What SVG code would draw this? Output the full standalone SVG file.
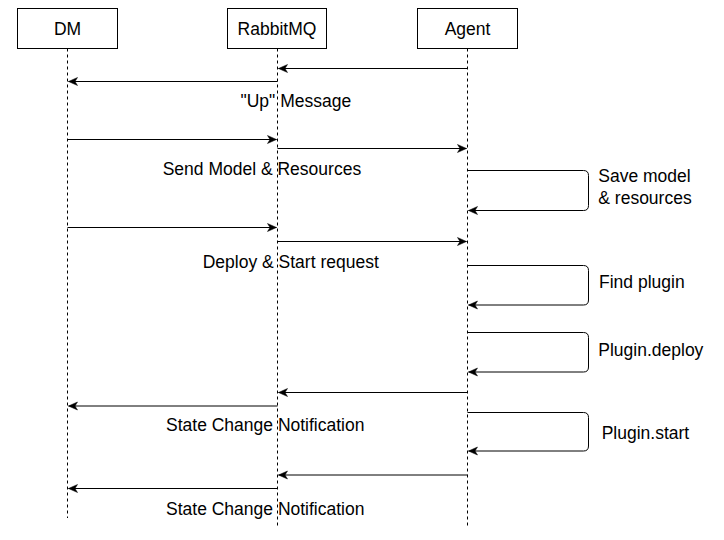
<svg xmlns="http://www.w3.org/2000/svg" width="724" height="540" viewBox="0 0 724 540">
<style>
.box{fill:#fff;stroke:#000;stroke-width:1}
.life{stroke:#000;stroke-width:1;stroke-dasharray:3 3;fill:none}
.msg{stroke:#000;stroke-width:1;fill:none;marker-end:url(#arr)}
.t{font-family:"Liberation Sans",Arial,Helvetica,sans-serif;font-size:17.5px;fill:#000}
.c{text-anchor:middle}
</style>
<defs>
<marker id="arr" markerUnits="userSpaceOnUse" markerWidth="12" markerHeight="10" viewBox="-10 -5 12 10" refX="0" refY="0" orient="auto">
<path d="M0,0 L-9,-4 L-6.5,0 L-9,4 Z" fill="#000" stroke="#000" stroke-width="0.5"/>
</marker>
</defs>
<rect width="724" height="540" fill="#fff"/>
<g id="dm">
<rect class="box" x="17.5" y="8.5" width="100" height="40"/>
<text class="t c" x="67.5" y="35">DM</text>
<line class="life" x1="67.5" y1="48.5" x2="67.5" y2="518"/>
</g>
<g id="rabbitmq">
<rect class="box" x="227.5" y="8.5" width="99" height="40"/>
<text class="t c" x="277" y="35">RabbitMQ</text>
<line class="life" x1="277.5" y1="48.5" x2="277.5" y2="527"/>
</g>
<g id="agent">
<rect class="box" x="417.5" y="8.5" width="100" height="40"/>
<text class="t c" x="467.5" y="35">Agent</text>
<line class="life" x1="467.5" y1="48.5" x2="467.5" y2="527"/>
</g>
<g id="connectors">
<line class="msg" x1="467.5" y1="68.5" x2="278.5" y2="68.5"/>
<line class="msg" x1="277.5" y1="81.5" x2="68.5" y2="81.5"/>
<line class="msg" x1="67.5" y1="139.5" x2="276.5" y2="139.5"/>
<line class="msg" x1="277.5" y1="148.5" x2="466.5" y2="148.5"/>
<path class="msg" d="M467.5,170.5 H583.5 Q588.5,170.5 588.5,175.5 V205.5 Q588.5,210.5 583.5,210.5 H468.5"/>
<line class="msg" x1="67.5" y1="227.5" x2="276.5" y2="227.5"/>
<line class="msg" x1="277.5" y1="241.5" x2="466.5" y2="241.5"/>
<path class="msg" d="M467.5,265.5 H583.5 Q588.5,265.5 588.5,270.5 V300 Q588.5,305 583.5,305 H468.5"/>
<path class="msg" d="M467.5,332.5 H583.5 Q588.5,332.5 588.5,337.5 V367 Q588.5,372 583.5,372 H468.5"/>
<line class="msg" x1="467.5" y1="392.5" x2="278.5" y2="392.5"/>
<line class="msg" x1="277.5" y1="406" x2="68.5" y2="406"/>
<path class="msg" d="M467.5,412.5 H583.5 Q588.5,412.5 588.5,417.5 V446 Q588.5,451 583.5,451 H468.5"/>
<line class="msg" x1="467.5" y1="475" x2="278.5" y2="475"/>
<line class="msg" x1="277.5" y1="488.5" x2="68.5" y2="488.5"/>
</g>
<g id="labels">
<text class="t" x="240.5" y="106.5">"Up" Message</text>
<text class="t" x="162.7" y="175">Send Model &amp; Resources</text>
<text class="t" x="202.7" y="267.5">Deploy &amp; Start request</text>
<text class="t" x="166" y="431">State Change Notification</text>
<text class="t" x="166" y="514.5">State Change Notification</text>
<text class="t" x="598.3" y="182">Save model</text>
<text class="t" x="598.3" y="204">&amp; resources</text>
<text class="t" x="599" y="287.5">Find plugin</text>
<text class="t" x="598.3" y="355.5">Plugin.deploy</text>
<text class="t" x="601.7" y="439">Plugin.start</text>
</g>
</svg>
